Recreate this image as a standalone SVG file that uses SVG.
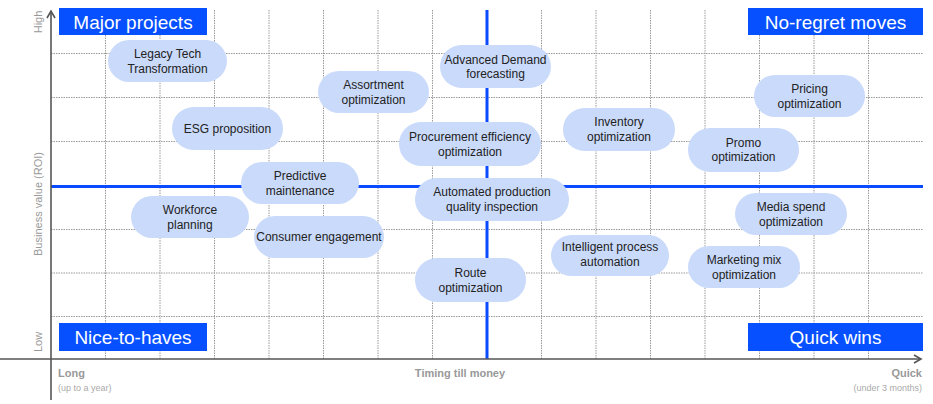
<svg xmlns="http://www.w3.org/2000/svg" width="933" height="404" viewBox="0 0 933 404">
<defs>
<style>
.grid{stroke:#9a9a9a;stroke-width:1;stroke-dasharray:1.5 1;fill:none}
.axis{stroke:#555;stroke-width:1.6;fill:none}
.mid{stroke:#0A4BFF;stroke-width:3;fill:none}
.quad rect{fill:#0650FF}
.quad text{fill:#fff;font-family:"Liberation Sans",Arial,sans-serif;font-size:19px;text-anchor:middle}
.node rect{fill:#CADAFB}
.node text{fill:#222;font-family:"Liberation Sans",Arial,sans-serif;font-size:12px;text-anchor:middle}
.lbl{fill:#999;font-family:"Liberation Sans",Arial,sans-serif;font-size:11px}
.lblb{fill:#999;font-family:"Liberation Sans",Arial,sans-serif;font-size:11px;font-weight:bold}
.lbls{fill:#aaa;font-family:"Liberation Sans",Arial,sans-serif;font-size:9px}
</style>
<marker id="arr" markerWidth="10" markerHeight="10" refX="8" refY="5" orient="auto" markerUnits="userSpaceOnUse">
<path d="M1,1 L8,5 L1,9" fill="none" stroke="#555" stroke-width="1.6"/>
</marker>
</defs>
<rect width="933" height="404" fill="#fff"/>
<g id="grid">
<path class="grid" d="M105.5,10V359M160,10V359M214.5,10V359M269,10V359M323.5,10V359M378,10V359M432.5,10V359M541.5,10V359M596,10V359M650.5,10V359M705,10V359M759.5,10V359M814,10V359M868.5,10V359"/>
<path class="grid" d="M51,53.5H923M51,97.5H923M51,141.5H923M51,229.5H923M51,273H923M51,316.5H923"/>
</g>
<g id="connectors">
<path class="mid" d="M51,186.5H923"/>
<path class="mid" d="M487,10V359"/>
<path class="axis" d="M51,400V11" marker-end="url(#arr)"/>
<path class="axis" d="M0,359H921" marker-end="url(#arr)"/>
</g>
<g id="axis-labels">
<text class="lbl" transform="translate(42,22) rotate(-90)" text-anchor="middle">High</text>
<text class="lbl" transform="translate(42,342) rotate(-90)" text-anchor="middle">Low</text>
<text class="lbl" transform="translate(42,204) rotate(-90)" text-anchor="middle">Business value (ROI)</text>
<text class="lblb" x="58" y="377">Long</text>
<text class="lbls" x="58" y="391">(up to a year)</text>
<text class="lblb" x="460" y="377" text-anchor="middle">Timing till money</text>
<text class="lblb" x="922" y="377" text-anchor="end">Quick</text>
<text class="lbls" x="922" y="391" text-anchor="end">(under 3 months)</text>
</g>
<g id="q-major" class="quad"><rect x="59" y="8" width="148" height="27"/><text x="133" y="29">Major projects</text></g>
<g id="q-noregret" class="quad"><rect x="748" y="8" width="175" height="27"/><text x="835.5" y="29">No-regret moves</text></g>
<g id="q-nice" class="quad"><rect x="59" y="323" width="148" height="28"/><text x="133" y="344">Nice-to-haves</text></g>
<g id="q-quick" class="quad"><rect x="748" y="323" width="175" height="28"/><text x="835.5" y="344">Quick wins</text></g>
<g id="n-legacy" class="node"><rect x="108" y="40" width="119" height="42" rx="21"/><text x="167.5" y="58">Legacy Tech</text><text x="167.5" y="73">Transformation</text></g>
<g id="n-esg" class="node"><rect x="172" y="107" width="111" height="43" rx="21.5"/><text x="227.5" y="133">ESG proposition</text></g>
<g id="n-assortment" class="node"><rect x="318" y="71" width="111" height="42" rx="21"/><text x="373.5" y="89">Assortment</text><text x="373.5" y="104">optimization</text></g>
<g id="n-demand" class="node"><rect x="440" y="45" width="111" height="43" rx="21.5"/><text x="495.5" y="64">Advanced Demand</text><text x="495.5" y="78">forecasting</text></g>
<g id="n-inventory" class="node"><rect x="563" y="108" width="112" height="43" rx="21.5"/><text x="619" y="126">Inventory</text><text x="619" y="141">optimization</text></g>
<g id="n-pricing" class="node"><rect x="754" y="75" width="111" height="42" rx="21"/><text x="809.5" y="93">Pricing</text><text x="809.5" y="108">optimization</text></g>
<g id="n-procurement" class="node"><rect x="399" y="122" width="142" height="44" rx="22"/><text x="470" y="141">Procurement efficiency</text><text x="470" y="156">optimization</text></g>
<g id="n-promo" class="node"><rect x="688" y="128" width="111" height="44" rx="22"/><text x="743.5" y="147">Promo</text><text x="743.5" y="161">optimization</text></g>
<g id="n-predictive" class="node"><rect x="241" y="162" width="118" height="42" rx="21"/><text x="300" y="180">Predictive</text><text x="300" y="195">maintenance</text></g>
<g id="n-workforce" class="node"><rect x="131" y="196" width="118" height="42" rx="21"/><text x="190" y="214">Workforce</text><text x="190" y="229">planning</text></g>
<g id="n-consumer" class="node"><rect x="254" y="216" width="130" height="42" rx="21"/><text x="319" y="241">Consumer engagement</text></g>
<g id="n-automated" class="node"><rect x="415" y="178" width="154" height="43" rx="21.5"/><text x="492" y="196">Automated production</text><text x="492" y="211">quality inspection</text></g>
<g id="n-intelligent" class="node"><rect x="551" y="235" width="118" height="41" rx="20.5"/><text x="610" y="251">Intelligent process</text><text x="610" y="266">automation</text></g>
<g id="n-media" class="node"><rect x="735" y="193" width="112" height="42" rx="21"/><text x="791" y="211">Media spend</text><text x="791" y="226">optimization</text></g>
<g id="n-marketing" class="node"><rect x="688" y="246" width="112" height="42" rx="21"/><text x="744" y="264">Marketing mix</text><text x="744" y="279">optimization</text></g>
<g id="n-route" class="node"><rect x="415" y="258" width="111" height="44" rx="22"/><text x="470.5" y="277">Route</text><text x="470.5" y="292">optimization</text></g>
</svg>
